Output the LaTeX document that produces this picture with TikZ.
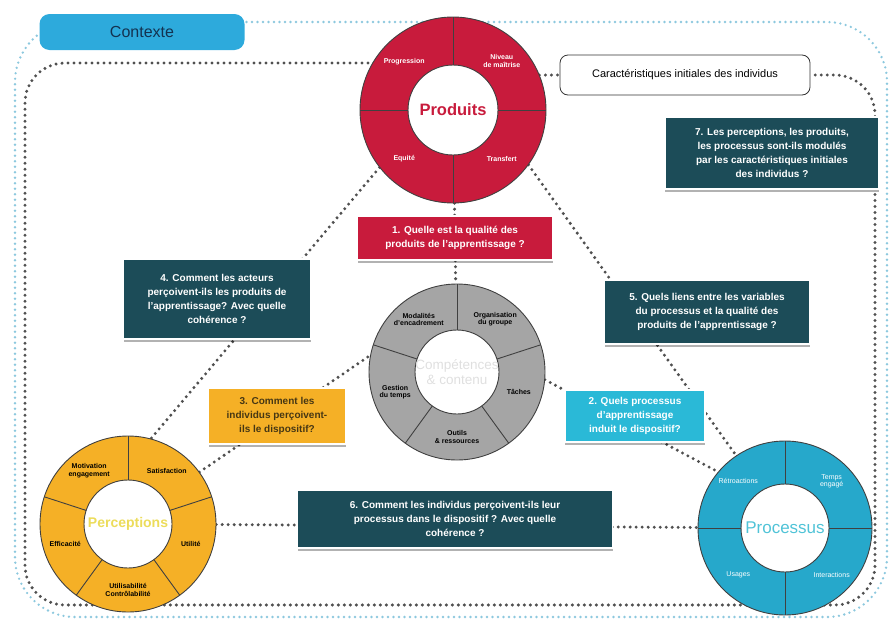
\documentclass[tikz,border=0pt]{standalone}
\usepackage{fontspec}
\setmainfont{Liberation Sans}
\usetikzlibrary{positioning,shapes,shadows,backgrounds}
\definecolor{prodred}{RGB}{200,27,60}
\definecolor{darkteal}{RGB}{28,76,88}
\definecolor{qorange}{RGB}{245,176,38}
\definecolor{qcyan}{RGB}{42,185,215}
\definecolor{proccyan}{RGB}{38,168,203}
\definecolor{compgray}{RGB}{165,165,165}
\definecolor{ctxblue}{RGB}{45,170,220}
\definecolor{ctxtext}{RGB}{20,50,80}
\definecolor{dotblue}{RGB}{140,200,222}
\definecolor{dotgray}{RGB}{80,80,80}
\tikzstyle{question} = [rectangle, draw=white, line width=1.5pt, text=white, align=center, font=\fontsize{10}{14}\selectfont\bfseries, inner sep=3pt, drop shadow={shadow xshift=0pt, shadow yshift=-3pt, fill=black, opacity=0.3}]
\tikzstyle{dots} = [draw=dotgray, line width=3.3pt, line cap=round, dash pattern=on 0pt off 6pt]
\tikzstyle{ctxdots} = [draw=dotblue, line width=2.6pt, line cap=round, dash pattern=on 0pt off 5.5pt]
\tikzstyle{ringline} = [draw=black!75, line width=0.9pt]
\tikzstyle{seg} = [font=\fontsize{7}{7.5}\selectfont\bfseries, align=center, inner sep=0pt]
\tikzstyle{hub} = [circle, inner sep=0pt, align=center]

\begin{document}
\begin{tikzpicture}[x=1pt,y=1pt]
	\useasboundingbox (0,0) rectangle (893,-621);
	\coordinate (prodc) at (453,-110);
	\coordinate (compc) at (457,-372);
	\coordinate (percc) at (128,-524);
	\coordinate (procc) at (785,-528);

	\fill[prodred, even odd rule] (prodc) circle (93pt) circle (45pt);
	\draw[ringline] (prodc) circle (93pt) circle (45pt);
	\foreach \a in {0,90,180,270}
		\draw[ringline] ([shift={(\a:45pt)}]prodc) -- ([shift={(\a:93pt)}]prodc);
	\foreach \a/\lbl [count=\i] in {135/Progression, 45/{Niveau\\de maîtrise}, 225/Equité, 315/Transfert}
		\node (prodseg\i) [seg, text=white] at ([shift={(\a:69pt)}]prodc) {\lbl};
	\node (produits) [hub, minimum size=186pt, text=prodred, font=\fontsize{16.5}{18}\selectfont\bfseries] at (prodc) {Produits};

	\fill[compgray, even odd rule] (compc) circle (88pt) circle (42pt);
	\draw[ringline] (compc) circle (88pt) circle (42pt);
	\foreach \a in {90,18,-54,-126,162}
		\draw[ringline] ([shift={(\a:42pt)}]compc) -- ([shift={(\a:88pt)}]compc);
	\foreach \a/\lbl [count=\i] in {126/{Modalités\\d'encadrement}, 54/{Organisation\\du groupe}, -18/Tâches, -90/{Outils\\\& ressources}, 198/{Gestion\\du temps}}
		\node (compseg\i) [seg] at ([shift={(\a:65pt)}]compc) {\lbl};
	\node (comp) [hub, minimum size=176pt, text=gray!25, font=\fontsize{13.5}{15}\selectfont] at (compc) {Compétences\\\& contenu};

	\fill[qorange, even odd rule] (percc) circle (88pt) circle (44pt);
	\draw[ringline] (percc) circle (88pt) circle (44pt);
	\foreach \a in {90,18,-54,-126,162}
		\draw[ringline] ([shift={(\a:44pt)}]percc) -- ([shift={(\a:88pt)}]percc);
	\foreach \a/\lbl [count=\i] in {126/{Motivation\\engagement}, 54/Satisfaction, -18/Utilité, -90/{Utilisabilité\\Contrôlabilité}, 198/Efficacité}
		\node (percseg\i) [seg] at ([shift={(\a:66pt)}]percc) {\lbl};
	\node (perceptions) [hub, minimum size=176pt, text={rgb,255:red,236;green,220;blue,90}, font=\fontsize{14}{16}\selectfont\bfseries] at (percc) {Perceptions};

	\fill[proccyan, even odd rule] (procc) circle (87pt) circle (44pt);
	\draw[ringline] (procc) circle (87pt) circle (44pt);
	\foreach \a in {0,90,180,270}
		\draw[ringline] ([shift={(\a:44pt)}]procc) -- ([shift={(\a:87pt)}]procc);
	\foreach \a/\lbl [count=\i] in {135/Rétroactions, 45/{Temps\\engagé}, 225/Usages, 315/Interactions}
		\node (procseg\i) [seg, text=white, font=\fontsize{7}{7.5}\selectfont] at ([shift={(\a:66pt)}]procc) {\lbl};
	\node (processus) [hub, minimum size=174pt, text={rgb,255:red,80;green,195;blue,215}, font=\fontsize{17}{18}\selectfont] at (procc) {Processus};

	\node (contexte) [rectangle, rounded corners=10pt, fill=ctxblue, text=ctxtext, minimum width=205pt, minimum height=36pt, font=\fontsize{16}{18}\selectfont] at (142,-32) {Contexte};
	\node (caract) [rectangle, rounded corners=8pt, draw=black!80, line width=0.8pt, fill=white, minimum width=250pt, minimum height=40pt, font=\fontsize{11}{13}\selectfont] at (685,-75) {Caractéristiques initiales des individus};

	\node (q1) [question, fill=prodred, minimum width=195pt, minimum height=44pt] at (455,-238) {1. Quelle est la qualité des\\produits de l'apprentissage ?};
	\node (q2) [question, fill=qcyan, minimum width=140pt, minimum height=52pt] at (635,-416) {2. Quels processus\\d'apprentissage\\induit le dispositif?};
	\node (q3) [question, fill=qorange, text={rgb,255:red,70;green,55;blue,20}, minimum width=137pt, minimum height=56pt] at (277,-416) {3. Comment les\\individus perçoivent-\\ils le dispositif?};
	\node (q4) [question, fill=darkteal, minimum width=187pt, minimum height=80pt] at (217,-299) {4. Comment les acteurs\\perçoivent-ils les produits de\\l'apprentissage? Avec quelle\\cohérence ?};
	\node (q5) [question, fill=darkteal, minimum width=205pt, minimum height=64pt] at (707,-312) {5. Quels liens entre les variables\\du processus et la qualité des\\produits de l'apprentissage ?};
	\node (q6) [question, fill=darkteal, minimum width=315pt, minimum height=58pt] at (455,-519) {6. Comment les individus perçoivent-ils leur\\processus dans le dispositif ? Avec quelle\\cohérence ?};
	\node (q7) [question, fill=darkteal, minimum width=214pt, minimum height=72pt] at (772,-153) {7. Les perceptions, les produits,\\les processus sont-ils modulés\\par les caractéristiques initiales\\des individus ?};

	\begin{pgfonlayer}{background}
		\draw[ctxdots, rounded corners=60pt] (230,-22) -- (887,-22) -- (887,-617) -- (15,-617) -- (15,-22) -- (60,-22);
		\draw[dots, rounded corners=40pt] (380,-63) -- (25,-63) -- (25,-605) -- (875,-605) -- (875,-75) -- (caract.east);
		\draw[dots] (produits.22) -- (caract.west);
		\draw[dots] (produits) -- (q1);
		\draw[dots] (q1) -- (comp);
		\draw[dots] (produits.218) -- (perceptions.75);
		\draw[dots] (produits.-36) -- (processus.124);
		\draw[dots] (perceptions) -- (processus);
		\draw[dots] (perceptions.36) -- (comp.169);
		\draw[dots] (comp.-5) -- (processus.140);
	\end{pgfonlayer}
\end{tikzpicture}
\end{document}
